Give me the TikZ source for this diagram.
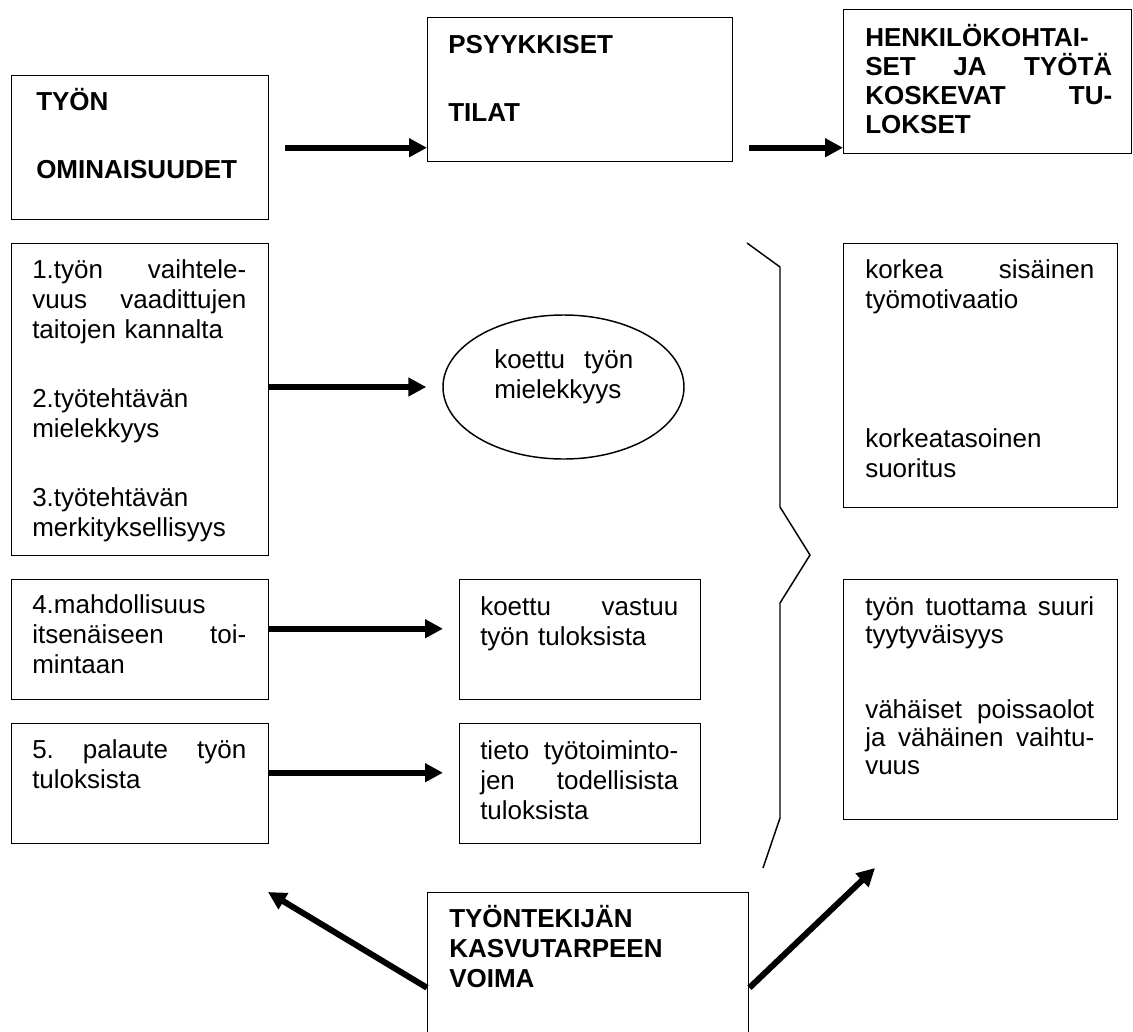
\documentclass[tikz,border=0pt]{standalone}
\usepackage{fontspec}
\setmainfont{Liberation Sans}
\usetikzlibrary{arrows.meta,shapes.geometric}

\begin{document}
\begin{tikzpicture}[
  x=0.75pt, y=-0.75pt,
  box/.style={draw, line width=1.1pt, anchor=north west, inner sep=0pt},
  txt/.style={anchor=base west, inner sep=0pt, align=left,
              font=\fontsize{19.5}{22.5}\selectfont},
  head/.style={txt, text width=230pt, font=\fontsize{19.5}{22.5}\selectfont\bfseries},
  arrow/.style={-{Triangle[length=13.5pt, width=13.5pt]}, line width=4.5pt}]
  \useasboundingbox (0,0) rectangle (1133,1032);
  \clip (0,0) rectangle (1133,1032);
  \node[box, minimum width=192.75pt, minimum height=108pt] (tyon) at (11,75) {};
  \node[box, minimum width=228.75pt, minimum height=108pt] (psy) at (427,17) {};
  \node[box, minimum width=216pt, minimum height=108pt] (henk) at (843,9) {};
  \node[box, minimum width=192.75pt, minimum height=234pt] (piirre) at (11,243) {};
  \node[draw, ellipse, line width=1.1pt, inner sep=0pt,
        minimum width=180.75pt, minimum height=108pt] (ell) at (563.5,387) {};
  \node[box, minimum width=192.75pt, minimum height=90pt] (itsen) at (11,579) {};
  \node[box, minimum width=192.75pt, minimum height=90pt] (palaute) at (11,723) {};
  \node[box, minimum width=180.75pt, minimum height=90pt] (vastuu) at (459,579) {};
  \node[box, minimum width=180.75pt, minimum height=90pt] (tieto) at (459,723) {};
  \node[box, minimum width=205.5pt, minimum height=198pt] (tulos) at (843,243) {};
  \node[box, minimum width=205.5pt, minimum height=180pt] (tyyty) at (843,579) {};
  \node[box, minimum width=240.75pt, minimum height=142.5pt] (voima) at (427,892) {};

  \node[head] (tyon-t) at (36,110) {TYÖN\\[28.5pt]OMINAISUUDET};
  \node[head] (psy-t) at (448,53) {PSYYKKISET\\[28.5pt]TILAT};
  \node[head, text width=185.25pt, font=\fontsize{19.5}{21.75}\selectfont\bfseries]
    (henk-t) at (865,46) {HENKILÖKOHTAI-\\SET\hfill JA\hfill TYÖTÄ\\KOSKEVAT\hfill TU-\\LOKSET};
  \node[txt, text width=160.5pt] (piirre-t) at (32,278)
    {1.työn\hfill vaihtele-\\vuus\hfill vaadittujen\\taitojen kannalta\\[29.25pt]2.työtehtävän\\mielekkyys\\[29.25pt]3.työtehtävän\\merkityksellisyys};
  \node[txt, text width=104.25pt] (ell-t) at (494,368) {koettu\hfill työn\\mielekkyys};
  \node[txt, text width=160.5pt] (itsen-t) at (32,613) {4.mahdollisuus\\itsenäiseen\hfill toi-\\mintaan};
  \node[txt, text width=160.5pt] (palaute-t) at (32,758) {5.\hfill palaute\hfill työn\\tuloksista};
  \node[txt, text width=148.5pt] (vastuu-t) at (480,615) {koettu\hfill vastuu\\työn tuloksista};
  \node[txt, text width=148.5pt] (tieto-t) at (480,759) {tieto\hfill työtoiminto-\\jen\hfill todellisista\\tuloksista};
  \node[txt, text width=171.75pt] (tulos-t) at (865,278)
    {korkea\hfill sisäinen\\työmotivaatio\\[81.75pt]korkeatasoinen\\suoritus};
  \node[txt, text width=171.75pt, font=\fontsize{19.5}{21}\selectfont] (tyyty-t) at (865,615)
    {työn\hfill tuottama\hfill suuri\\tyytyväisyys\\[35.25pt]vähäiset\hfill poissaolot\\ja\hfill vähäinen\hfill vaihtu-\\vuus};
  \node[head] (voima-t) at (449,927) {TYÖNTEKIJÄN\\KASVUTARPEEN\\VOIMA};

  \draw[line width=1.1pt] (747,243) -- (780,267) -- (780,507) -- (810,555)
    -- (780,603) -- (780,818) -- (763,868);

  \coordinate (vasen) at (268,892);
  \coordinate (oikea) at (875,868);
  \draw[arrow, shorten <=12pt] (tyon.east) -- (tyon.east -| psy.west);
  \draw[arrow, shorten <=12pt] (tyon.east -| psy.east) -- (tyon.east -| henk.west);
  \draw[arrow, shorten >=12pt] (ell.west -| piirre.east) -- (ell.west);
  \draw[arrow, shorten >=12pt] ([yshift=8.25pt]itsen.east) -- ([yshift=8.25pt]vastuu.west);
  \draw[arrow, shorten >=12pt] ([yshift=8.25pt]palaute.east) -- ([yshift=8.25pt]tieto.west);
  \draw[arrow] (voima.west) -- (vasen);
  \draw[arrow] (voima.east) -- (oikea);
\end{tikzpicture}
\end{document}
